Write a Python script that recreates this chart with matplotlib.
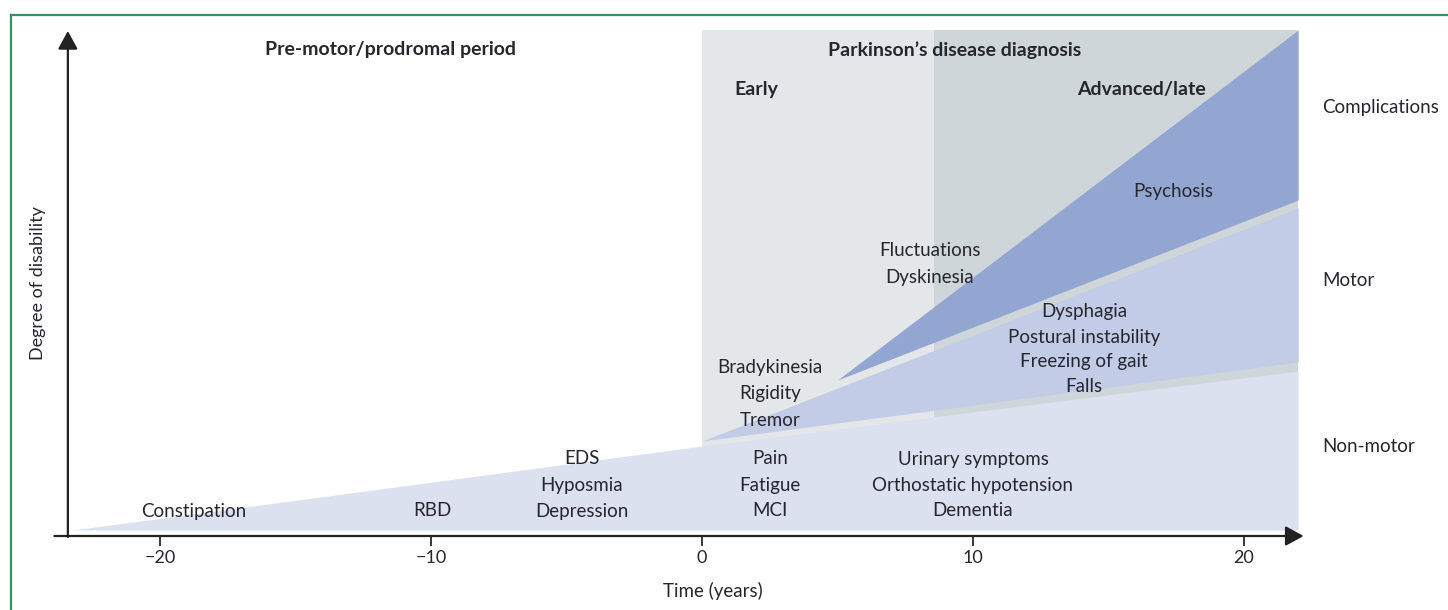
import matplotlib
matplotlib.use("Agg")
import matplotlib.pyplot as plt
from matplotlib.lines import Line2D

plt.rcParams['font.family'] = ['Lato', 'DejaVu Sans']

# wedge outlines (years vs degree of disability)
nonmotor_x = [-23.2, 0, 22]
nonmotor_low = [1.2, 1.2, 1.2]
nonmotor_high = [1.2, 18, 33]

motor_x = [0, 22]
motor_low = [19, 34.8]
motor_high = [19, 65.6]

compl_x = [5.0, 22]
compl_low = [31.2, 67.2]
compl_high = [31.2, 101.2]

# disease phases
diagnosis_span = [0, 22]
advanced_span = [8.55, 22]
phase_top = 101.3

xticks = [-20, -10, 0, 10, 20]

txt = '#26262e'
fs = 13.5

fig = plt.figure(figsize=(14.48, 6.10), dpi=100)
ax = fig.add_axes([0, 0, 1, 1])
ax.set_xlim(-25.904, 27.528)
ax.set_ylim(-14.8, 107.2)

# phase backgrounds
ax.fill_between(diagnosis_span, 1.2, phase_top, color='#e4e7ea', lw=0, zorder=1)
ax.fill_between(advanced_span, 1.2, phase_top, color='#cfd6d9', lw=0, zorder=1)

# symptom wedges
ax.fill_between(nonmotor_x, nonmotor_low, nonmotor_high, color='#dce1ef', lw=0, zorder=2)
ax.fill_between(motor_x, motor_low, motor_high, color='#c3cce6', lw=0, zorder=2)
ax.fill_between(compl_x, compl_low, compl_high, color='#93a6d2', lw=0, zorder=2)

# axes with arrows
for s in ['top', 'right', 'left']:
    ax.spines[s].set_visible(False)
ax.spines['bottom'].set_position(('data', 0))
ax.spines['bottom'].set_visible(False)
ax.set_xticks(xticks)
ax.tick_params(axis='x', direction='out', length=7, width=1.3, color=txt,
               labelsize=13, labelcolor=txt, pad=3)
ax.set_yticks([])

arrow = dict(arrowstyle='-|>,head_length=0.55,head_width=0.3', mutation_scale=20,
             lw=1.6, color='#222222', shrinkA=0, shrinkB=0)
ax.annotate('', xy=(22.2, 0), xytext=(-23.9, 0), arrowprops=arrow, zorder=5)
ax.annotate('', xy=(-23.4, 101.0), xytext=(-23.4, -0.2), arrowprops=arrow, zorder=5)

# phase headings
bold = dict(fontsize=14, fontweight='bold', color=txt, ha='center', va='center', zorder=4)
ax.text(-11.5, 97.2, 'Pre-motor/prodromal period', **bold)
ax.text(9.34, 97.2, 'Parkinson\u2019s disease diagnosis', **bold)
ax.text(2.0, 89.4, 'Early', **bold)
ax.text(16.2, 89.4, 'Advanced/late', **bold)

# symptom labels
symptoms = [
    (-18.75, [5.0], ['Constipation']),
    (-9.96, [5.0], ['RBD']),
    (-4.43, [15.4, 10.2, 5.0], ['EDS', 'Hyposmia', 'Depression']),
    (2.5, [15.4, 10.2, 5.0], ['Pain', 'Fatigue', 'MCI']),
    (10.0, [15.4, 10.2, 5.0], ['Urinary symptoms', 'Orthostatic hypotension', 'Dementia']),
    (2.5, [33.6, 28.4, 23.2], ['Bradykinesia', 'Rigidity', 'Tremor']),
    (8.4, [57.0, 51.8], ['Fluctuations', 'Dyskinesia']),
    (14.1, [45.0, 39.8, 34.8, 29.8], ['Dysphagia', 'Postural instability', 'Freezing of gait', 'Falls']),
    (17.4, [69.0], ['Psychosis']),
]
for x, ys, names in symptoms:
    for y, name in zip(ys, names):
        ax.text(x, y, name, fontsize=fs, color=txt, ha='center', va='center', zorder=4)

# category labels on the right
for y, name in [(85.6, 'Complications'), (51.2, 'Motor'), (17.8, 'Non-motor')]:
    ax.text(22.9, y, name, fontsize=fs, color=txt, ha='left', va='center')

ax.text(0.4, -11.0, 'Time (years)', fontsize=fs, color=txt, ha='center', va='center')
ax.text(-24.5, 50.6, 'Degree of disability', fontsize=13, color=txt, ha='center',
        va='center', rotation=90)

# green frame
fig.add_artist(Line2D([0.0076, 0.0076], [-0.01, 0.9754], transform=fig.transFigure,
                      color='#3a8f63', lw=1.6))
fig.add_artist(Line2D([0.0076, 1.01], [0.9754, 0.9754], transform=fig.transFigure,
                      color='#3a8f63', lw=1.6))

fig.savefig('out.png', dpi=100)
